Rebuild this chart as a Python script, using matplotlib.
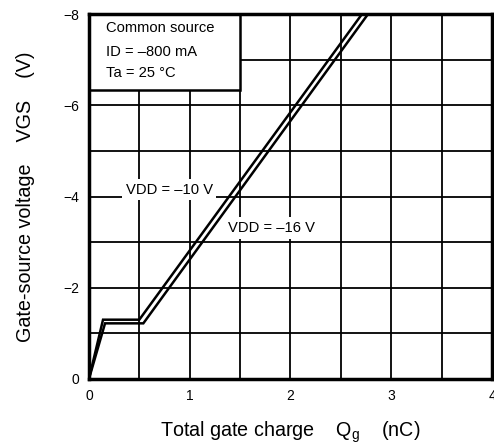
import matplotlib
matplotlib.use("Agg")
import matplotlib.pyplot as plt
from matplotlib.patches import Rectangle
from matplotlib.ticker import MultipleLocator

plt.rcParams['font.family'] = ['Liberation Sans', 'DejaVu Sans']

# gate charge curves (nC, V)
qg_10 = [0.0, 0.14, 0.50, 2.71]
vgs_10 = [0.0, -1.30, -1.30, -8.0]
qg_16 = [0.0, 0.16, 0.54, 2.77]
vgs_16 = [0.0, -1.22, -1.22, -8.0]

xticks = [0, 1, 2, 3, 4]
yticks = [0, -2, -4, -6, -8]
ytick_labels = ['0', '\u22122', '\u22124', '\u22126', '\u22128']

fig = plt.figure(figsize=(4.94, 4.44), dpi=100)
ax = fig.add_axes([0.18, 0.1464, 0.816, 0.822])

ax.set_xlim(0, 4)
ax.set_ylim(0, -8)
ax.set_xticks(xticks)
ax.set_xticklabels([str(t) for t in xticks])
ax.set_yticks(yticks)
ax.set_yticklabels(ytick_labels)
ax.xaxis.set_minor_locator(MultipleLocator(0.5))
ax.yaxis.set_minor_locator(MultipleLocator(1))
ax.tick_params(which='both', length=0, labelsize=10)
ax.tick_params(axis='y', pad=7)
ax.tick_params(axis='x', pad=7)
ax.grid(which='both', color='black', lw=1.3)
ax.set_axisbelow(True)
for s in ax.spines.values():
    s.set_linewidth(2.5)
    s.set_zorder(6)

ax.plot(qg_10, vgs_10, color='black', lw=1.8, zorder=3, solid_joinstyle='miter')
ax.plot(qg_16, vgs_16, color='black', lw=1.8, zorder=3, solid_joinstyle='miter')

# condition box in the top-left
ax.add_patch(Rectangle((0, -8), 1.5, 1.66, facecolor='white', edgecolor='black',
                       lw=1.8, zorder=5))
ax.text(0.17, -7.70, 'Common source', fontsize=10.6, va='center', zorder=6)
ax.text(0.17, -7.17, 'ID = \u2013800 mA', fontsize=10.6, va='center', zorder=6)
ax.text(0.17, -6.71, 'Ta = 25 \u00b0C', fontsize=10.6, va='center', zorder=6)

bb = dict(facecolor='white', edgecolor='none', pad=2.5)
ax.text(1.23, -4.15, 'VDD = \u201310 V', fontsize=10.6, ha='right', va='center',
        bbox=bb, zorder=4)
ax.text(1.38, -3.31, 'VDD = \u201316 V', fontsize=10.6, ha='left', va='center',
        bbox=bb, zorder=4)

ax.set_xlabel('Total gate charge    Q$_\\mathregular{g}$    (nC)', fontsize=14.2, labelpad=12)
ax.set_ylabel('Gate-source voltage    VGS    (V)', fontsize=14.2, labelpad=20)

fig.savefig('out.png', dpi=100)
